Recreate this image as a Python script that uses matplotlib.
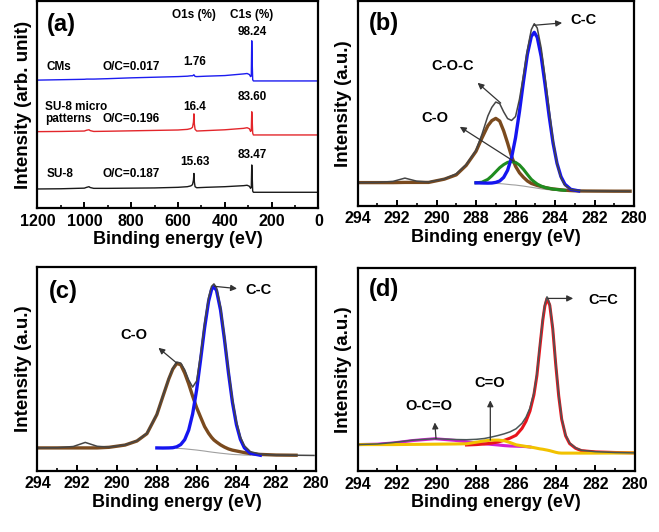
import matplotlib
matplotlib.use("Agg")
import matplotlib.pyplot as plt
import numpy as np

plt.rcParams['font.family'] = ['Liberation Sans', 'DejaVu Sans']
plt.rcParams['font.weight'] = 'bold'

# ---------------- Panel (a): survey spectra ----------------
E_a = [1200, 1100, 1000, 990, 980, 975, 960, 900, 800, 700, 600, 560, 545, 538, 534, 532,
       530, 527, 520, 480, 400, 320, 305, 295, 290, 287, 285, 283, 281, 278, 270, 200, 100, 0]
cms = [61.8, 62.0, 62.2, 62.3, 62.3, 62.3, 62.3, 62.5, 62.9, 63.2, 63.5, 63.7, 63.9, 63.9, 64.2, 64.4,
       64.0, 63.6, 63.5, 63.7, 64.0, 64.8, 65.0, 64.5, 63.5, 63.8, 80.8, 70.0, 62.0, 61.4, 61.4, 61.4, 61.4, 61.4]
su8_micro = [36.9, 37.0, 37.2, 37.6, 37.8, 37.4, 37.0, 37.1, 37.3, 37.5, 37.7, 38.0, 38.4, 39.0, 41.5, 45.5,
             40.5, 38.0, 37.2, 37.4, 37.8, 38.5, 38.8, 38.3, 37.0, 37.5, 46.5, 42.0, 36.2, 35.3, 35.3, 35.3, 35.3, 35.3]
su8 = [9.2, 9.3, 9.6, 10.0, 10.3, 9.9, 9.5, 9.5, 9.6, 9.7, 10.0, 10.3, 10.7, 11.3, 13.5, 16.7,
       12.5, 10.3, 9.8, 10.0, 10.3, 10.8, 11.0, 10.5, 9.5, 10.0, 20.8, 15.0, 8.2, 7.6, 7.6, 7.6, 7.6, 7.6]
a_ticks = [1200, 1000, 800, 600, 400, 200, 0]

# ---------------- Panel (b) ----------------
E_b = [294, 293, 292.2, 291.6, 291, 290.4, 289.6, 289, 288.5, 288, 287.7, 287.4, 287.2, 287.0, 286.8,
       286.6, 286.4, 286.2, 286.0, 285.8, 285.6, 285.4, 285.2, 285.05, 284.9, 284.7, 284.5, 284.3,
       284.1, 283.9, 283.7, 283.5, 283.2, 282.8, 282, 281, 280.2]
b_env = [11.2, 11.3, 11.8, 13.4, 11.9, 11.5, 13.0, 15.5, 20.0, 27.0, 34.8, 43.8, 48.0, 50.6, 49.8,
         45.8, 42.5, 41.6, 43.5, 52.0, 63.5, 76.0, 86.0, 88.9, 86.8, 77.0, 62.5, 47.0,
         32.0, 20.5, 13.5, 9.8, 7.9, 7.3, 7.1, 7.0, 6.9]
b_cc = [None, None, None, None, None, None, None, None, None, 11.1, 11.0, 10.95, 11.0, 11.3, 12.0,
        13.75, 17.25, 23.45, 33.1, 45.95, 60.5, 73.9, 82.7, 84.7, 82.25, 72.85, 58.9, 43.9,
        30.6, 20.65, 14.15, 10.4, 7.9, 7.15, None, None, None]
b_co = [11.2, 11.2, 11.2, 11.3, 11.3, 11.3, 12.9, 15.0, 19.6, 26.5, 33.0, 39.0, 41.5, 42.6, 41.3,
        36.5, 30.5, 24.0, 19.2, 16.0, 13.8, 12.0, 10.8, 10.3, 9.8, 9.3, 8.8, 8.4,
        8.1, 7.9, 7.65, 7.5, 7.3, 7.1, 7.05, 7.0, 7.0]
b_coc = [None, None, None, None, None, None, None, None, None, 11.1, 11.4, 12.8, 14.5, 16.5, 18.5,
         20.0, 21.1, 21.5, 21.1, 19.8, 17.7, 15.2, 12.8, 11.6, 10.5, 9.5, 8.8, 8.4,
         8.0, 7.8, 7.6, 7.4, None, None, None, None, None]
b_bg = [None, None, None, None, None, None, None, None, None, 11.1, 11.0, 10.9, 10.85, 10.8, 10.7,
        10.55, 10.35, 10.15, 10.0, 9.75, 9.5, 9.2, 8.9, 8.7, 8.45, 8.15, 7.9, 7.7,
        7.5, 7.35, 7.25, 7.2, 7.1, 7.05, None, None, None]

# ---------------- Panel (c) ----------------
E_c = [294, 293, 292.2, 291.6, 291, 290.4, 289.6, 289, 288.5, 288, 287.7, 287.4, 287.2, 287.0, 286.8,
       286.6, 286.4, 286.2, 286.0, 285.8, 285.6, 285.4, 285.25, 285.13, 285.0, 284.8, 284.6, 284.4,
       284.2, 284.0, 283.8, 283.6, 283.3, 282.8, 282, 281, 280.1]
c_env = [11.1, 11.2, 11.8, 13.8, 11.9, 11.5, 12.6, 14.6, 18.3, 27.7, 36.6, 45.3, 50.2, 53.3, 52.8,
         49.5, 44.5, 41.0, 44.0, 57.0, 72.5, 85.0, 90.5, 91.7, 89.8, 80.5, 66.0, 49.5,
         35.0, 24.0, 16.5, 12.2, 9.3, 8.0, 7.6, 7.5, 7.4]
c_cc = [None, None, None, None, None, None, None, None, None, 11.1, 11.05, 11.1, 11.2, 11.65, 12.75,
        15.15, 19.85, 27.85, 39.65, 54.5, 70.15, 83.15, 88.95, 90.4, 88.45, 78.9, 64.3, 48.0,
        33.5, 22.55, 15.3, 11.15, 8.45, 7.5, None, None, None]
c_co = [11.1, 11.1, 11.1, 11.1, 11.1, 11.4, 12.5, 14.5, 18.1, 27.5, 36.3, 45.0, 49.8, 52.6, 52.0,
        47.9, 42.6, 36.5, 30.9, 26.2, 21.6, 18.3, 16.3, 15.0, 14.0, 12.6, 11.5, 10.6,
        10.0, 9.6, 9.2, 8.8, 8.3, 7.9, 7.6, 7.5, None]
c_bg = [None, None, None, None, None, None, None, None, None, None, None, None, None, 10.9, 10.8,
        10.65, 10.45, 10.25, 10.05, 9.8, 9.55, 9.25, 9.05, 8.9, 8.75, 8.5, 8.3, 8.1,
        7.9, 7.8, 7.7, 7.6, 7.55, None, None, None, None]

# ---------------- Panel (d) ----------------
E_d = [294, 293, 292.2, 291.2, 290.1, 289.1, 288.5, 288.0, 287.6, 287.25, 286.9, 286.6, 286.3, 286.0,
       285.7, 285.5, 285.3, 285.1, 284.95, 284.8, 284.65, 284.55, 284.44, 284.3, 284.15, 284.0,
       283.85, 283.7, 283.5, 283.3, 283.0, 282.7, 282.0, 281.0, 280.0]
d_env = [13.0, 13.3, 14.0, 15.2, 15.9, 15.5, 15.4, 15.6, 16.0, 16.7, 17.5, 18.3, 19.3, 20.8,
         23.5, 26.5, 31.0, 38.5, 48.0, 62.0, 75.5, 82.0, 85.8, 82.3, 70.8, 53.2,
         37.6, 26.0, 17.7, 13.8, 11.4, 10.2, 9.5, 9.1, 8.9]
d_cc = [None, None, None, None, None, None, 12.8, 13.0, 13.3, 13.7, 14.3, 15.1, 16.2, 17.6,
        21.0, 24.5, 29.5, 37.5, 47.0, 61.0, 74.5, 81.2, 85.0, 81.6, 70.0, 52.5,
        37.0, 25.5, 17.3, 13.5, 11.2, 10.0, 9.4, 9.1, 8.9]
d_occo = [13.0, 13.2, 13.8, 15.0, 15.9, 15.1, 14.4, 13.8, 13.4, 13.1, 12.8, 12.5, 12.3, 12.2,
          12.1, 12.0, 11.8, None, None, None, None, None, None, None, None, None,
          None, None, None, None, None, None, None, None, None]
d_co = [13.0, 13.0, 13.0, 13.1, 13.2, 13.3, 13.4, 14.2, 14.8, 15.2, 15.2, 14.9, 14.0, 12.9,
        12.4, 12.1, 11.8, 11.5, 11.2, 10.9, 10.7, 10.5, 10.3, 10.0, 9.6, 9.2,
        8.9, 8.8, 8.8, 8.8, 8.8, 8.8, 8.8, 8.85, 8.9]
eV_ticks = [294, 292, 290, 288, 286, 284, 282, 280]


def arr(v):
    return np.array([np.nan if x is None else x for x in v], dtype=float)


fig = plt.figure(figsize=(6.59, 5.32), dpi=100)
TICK_FS = 11.5
LAB_FS = 13


def style(ax, xlim, ticks, minor, ylabel):
    ax.set_xlim(*xlim)
    ax.set_ylim(0, 100)
    ax.set_xticks(ticks)
    ax.set_xticks(minor, minor=True)
    ax.set_yticks([])
    ax.tick_params(axis='x', which='major', direction='in', length=4, width=1.4,
                   labelsize=TICK_FS, pad=4)
    ax.tick_params(axis='x', which='minor', direction='in', length=2.5, width=1.2)
    for lab in ax.get_xticklabels():
        lab.set_fontweight('bold')
    for s in ax.spines.values():
        s.set_linewidth(1.6)
    ax.set_xlabel('Binding energy (eV)', fontsize=LAB_FS, fontweight='bold', labelpad=2)
    ax.set_ylabel(ylabel, fontsize=LAB_FS + 0.5, fontweight='bold', labelpad=4)


arrow = dict(arrowstyle='-|>', color='#333333', lw=0.9, mutation_scale=9, shrinkA=0, shrinkB=0)

# (a)
axa = fig.add_axes([0.0569, 0.609, 0.4264, 0.389])
axa.plot(E_a, su8, color='#1a1a1a', lw=1.0)
axa.plot(E_a, su8_micro, color='#e3262b', lw=1.0)
axa.plot(E_a, cms, color='#1c1cf0', lw=1.0)
style(axa, (1200, 0), a_ticks, [1100, 900, 700, 500, 300, 100], 'Intensity (arb. unit)')
fs = 8.5
axa.text(0.033, 0.889, '(a)', transform=axa.transAxes, fontsize=17, fontweight='bold', va='center')
axa.text(532, 93.2, 'O1s (%)', fontsize=fs, ha='center', va='center')
axa.text(285, 93.2, 'C1s (%)', fontsize=fs, ha='center', va='center')
axa.text(283, 85.2, '98.24', fontsize=fs, ha='center', va='center')
axa.text(1161, 68.3, 'CMs', fontsize=fs, ha='left', va='center')
axa.text(923, 68.3, 'O/C=0.017', fontsize=fs, ha='left', va='center')
axa.text(527, 70.4, '1.76', fontsize=fs, ha='center', va='center')
axa.text(1168, 49.0, 'SU-8 micro', fontsize=fs, ha='left', va='center')
axa.text(1168, 42.8, 'patterns', fontsize=fs, ha='left', va='center')
axa.text(923, 42.8, 'O/C=0.196', fontsize=fs, ha='left', va='center')
axa.text(527, 49.0, '16.4', fontsize=fs, ha='center', va='center')
axa.text(283, 53.5, '83.60', fontsize=fs, ha='center', va='center')
axa.text(1161, 16.4, 'SU-8', fontsize=fs, ha='left', va='center')
axa.text(923, 16.4, 'O/C=0.187', fontsize=fs, ha='left', va='center')
axa.text(527, 22.1, '15.63', fontsize=fs, ha='center', va='center')
axa.text(283, 25.6, '83.47', fontsize=fs, ha='center', va='center')

minor_eV = [293, 291, 289, 287, 285, 283, 281]
FS_ANN = 10.5

# (b)
axb = fig.add_axes([0.5425, 0.6137, 0.4196, 0.3844])
axb.plot(E_b, arr(b_bg), color='#a0a0a0', lw=0.8)
axb.plot(E_b, arr(b_co), color='#7a4a1e', lw=2.4)
axb.plot(E_b, arr(b_coc), color='#1f8c1f', lw=2.2)
axb.plot(E_b, arr(b_cc), color='#1515f0', lw=2.4)
axb.plot(E_b, arr(b_env), color='#454545', lw=1.1)
style(axb, (294, 280), eV_ticks, minor_eV, 'Intensity (a.u.)')
axb.text(0.042, 0.888, '(b)', transform=axb.transAxes, fontsize=17, fontweight='bold', va='center')
axb.annotate('', xy=(283.64, 89.3), xytext=(285.09, 88.1), arrowprops=arrow)
axb.text(283.2, 90.5, 'C-C', fontsize=FS_ANN, ha='left', va='center')
axb.annotate('', xy=(287.92, 60.0), xytext=(286.75, 50.1), arrowprops=arrow)
axb.text(289.2, 68.3, 'C-O-C', fontsize=FS_ANN, ha='center', va='center')
axb.annotate('', xy=(288.82, 38.5), xytext=(286.07, 21.5), arrowprops=arrow)
axb.text(290.1, 42.6, 'C-O', fontsize=FS_ANN, ha='center', va='center')

# (c)
axc = fig.add_axes([0.0569, 0.1156, 0.4226, 0.3825])
axc.plot(E_c, arr(c_bg), color='#a0a0a0', lw=0.8)
axc.plot(E_c, arr(c_co), color='#7a4a1e', lw=2.4)
axc.plot(E_c, arr(c_cc), color='#1515f0', lw=2.4)
axc.plot(E_c, arr(c_env), color='#454545', lw=1.1)
style(axc, (294, 280), eV_ticks, minor_eV, 'Intensity (a.u.)')
axc.text(0.042, 0.882, '(c)', transform=axc.transAxes, fontsize=17, fontweight='bold', va='center')
axc.annotate('', xy=(283.97, 89.4), xytext=(285.1, 90.5), arrowprops=arrow)
axc.text(283.55, 88.9, 'C-C', fontsize=FS_ANN, ha='left', va='center')
axc.annotate('', xy=(287.92, 60.3), xytext=(286.99, 52.7), arrowprops=arrow)
axc.text(289.15, 66.4, 'C-O', fontsize=FS_ANN, ha='center', va='center')

# (d)
axd = fig.add_axes([0.5425, 0.1147, 0.4211, 0.3816])
axd.plot(E_d, arr(d_occo), color='#d21fd2', lw=2.2)
axd.plot(E_d, arr(d_cc), color='#e8141c', lw=2.2)
axd.plot(E_d, arr(d_co), color='#f2c200', lw=2.2)
axd.plot(E_d, arr(d_env), color='#4a5656', lw=1.1)
style(axd, (294, 280), eV_ticks, minor_eV, 'Intensity (a.u.)')
axd.text(0.042, 0.892, '(d)', transform=axd.transAxes, fontsize=17, fontweight='bold', va='center')
axd.annotate('', xy=(283.12, 85.0), xytext=(284.39, 85.0), arrowprops=arrow)
axd.text(282.35, 84.0, 'C=C', fontsize=FS_ANN, ha='left', va='center')
axd.annotate('', xy=(287.3, 34.8), xytext=(287.3, 15.2), arrowprops=arrow)
axd.text(287.35, 43.5, 'C=O', fontsize=FS_ANN, ha='center', va='center')
axd.annotate('', xy=(290.1, 23.9), xytext=(290.04, 15.9), arrowprops=arrow)
axd.text(290.4, 32.0, 'O-C=O', fontsize=FS_ANN, ha='center', va='center')

fig.savefig('out.png', dpi=100)
